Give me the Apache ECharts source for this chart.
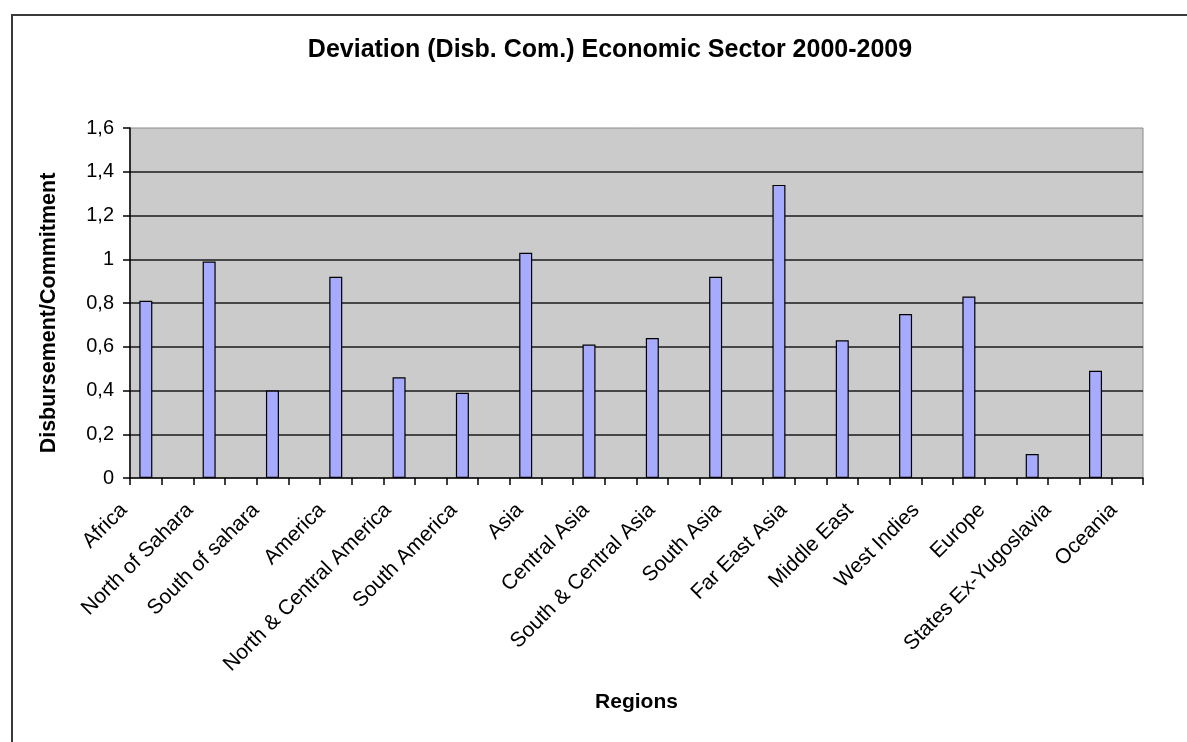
<!DOCTYPE html>
<html>
<head>
<meta charset="utf-8">
<title>Deviation (Disb. Com.) Economic Sector 2000-2009</title>
<script src="https://cdn.jsdelivr.net/npm/echarts@6/dist/echarts.min.js"></script>
<style>
  html, body { margin: 0; padding: 0; background: #ffffff; }
  #chart { width: 1187px; height: 742px; }
</style>
</head>
<body>
<div id="chart"></div>
<script>
// Regions and their disbursement/commitment ratio, 2000-2009
const regions = [
  'Africa', 'North of Sahara', 'South of sahara', 'America',
  'North & Central America', 'South America', 'Asia', 'Central Asia',
  'South & Central Asia', 'South Asia', 'Far East Asia', 'Middle East',
  'West Indies', 'Europe', 'States Ex-Yugoslavia', 'Oceania'
];
const ratios = [
  0.81, 0.99, 0.40, 0.92,
  0.46, 0.39, 1.03, 0.61,
  0.64, 0.92, 1.34, 0.63,
  0.75, 0.83, 0.11, 0.49
];
const yTickLabels = ['0', '0,2', '0,4', '0,6', '0,8', '1', '1,2', '1,4', '1,6'];

// Each region takes one slot followed by an empty slot (Excel-style spacing).
const slots = [];
const slotValues = [];
regions.forEach((r, i) => {
  slots.push(r);
  slots.push('gap' + i);
  slotValues.push(ratios[i]);
  slotValues.push(null);
});

const FONT = '"Liberation Sans", Arial, sans-serif';

const chart = echarts.init(document.getElementById('chart'), null, { renderer: 'canvas' });

chart.setOption({
  backgroundColor: '#ffffff',
  animation: false,
  title: {
    text: 'Deviation (Disb. Com.) Economic Sector 2000-2009',
    left: 605,
    top: 33,
    textAlign: 'center',
    textStyle: { fontFamily: FONT, fontSize: 25, fontWeight: 'bold', color: '#000000' }
  },
  graphic: [{
    type: 'rect',
    shape: { x: 12, y: 15, width: 1200, height: 800 },
    style: { fill: null, stroke: '#3a3a3a', lineWidth: 2 },
    silent: true
  }],
  grid: [
    {
      left: 130, right: 44, top: 128, bottom: 264,
      show: true, backgroundColor: '#cbcbcb', borderColor: '#8a8a8a', borderWidth: 1
    },
    // label band for the region names (wider step than the bar slots)
    { left: 91, right: 40, top: 128, bottom: 264, show: false }
  ],
  xAxis: [
    {
      type: 'category',
      gridIndex: 0,
      data: slots,
      boundaryGap: true,
      name: 'Regions',
      nameLocation: 'middle',
      nameGap: 214,
      nameTextStyle: { fontFamily: FONT, fontSize: 21, fontWeight: 'bold', color: '#000000' },
      axisLine: { show: true, lineStyle: { color: '#000000', width: 1.5 } },
      axisTick: { show: true, interval: 0, length: 7, inside: false, lineStyle: { color: '#000000', width: 1.5 } },
      axisLabel: { show: false },
      splitLine: { show: false }
    },
    {
      type: 'category',
      gridIndex: 1,
      data: regions,
      boundaryGap: true,
      axisLine: { show: false },
      axisTick: { show: false },
      axisLabel: {
        show: true, interval: 0, rotate: 45, margin: 29,
        fontFamily: FONT, fontSize: 21, color: '#000000'
      },
      splitLine: { show: false }
    }
  ],
  yAxis: [
    {
      type: 'value',
      gridIndex: 0,
      min: 0, max: 1.6, interval: 0.2,
      name: 'Disbursement/Commitment',
      nameLocation: 'middle',
      nameGap: 70,
      nameRotate: 90,
      nameTextStyle: {
        fontFamily: FONT, fontSize: 21.5, fontWeight: 'bold', color: '#000000',
        padding: [0, 20, 0, 0]
      },
      axisLine: { show: true, lineStyle: { color: '#000000', width: 1.5 } },
      axisTick: { show: true, length: 7, lineStyle: { color: '#000000', width: 1.5 } },
      axisLabel: {
        margin: 16, fontFamily: FONT, fontSize: 20, color: '#000000',
        formatter: v => yTickLabels[Math.round(v / 0.2)]
      },
      splitLine: { show: true, showMinLine: false, showMaxLine: false, lineStyle: { color: '#1a1a1a', width: 1.5 } }
    },
    { type: 'value', gridIndex: 1, min: 0, max: 1.6, show: false }
  ],
  series: [{
    type: 'bar',
    xAxisIndex: 0,
    yAxisIndex: 0,
    data: slotValues,
    barWidth: 13,
    itemStyle: { color: '#a7abfd', borderColor: '#000000', borderWidth: 1.2 }
  }]
});
</script>
</body>
</html>
